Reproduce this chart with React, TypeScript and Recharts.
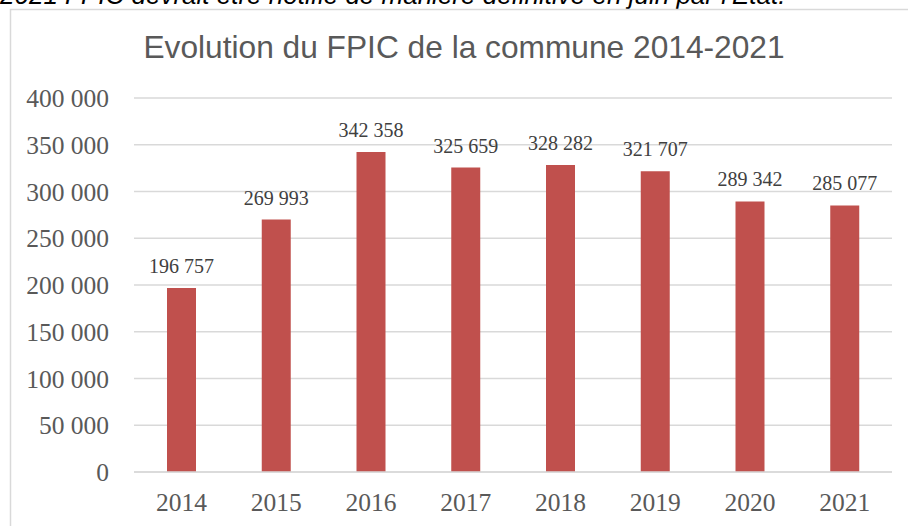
import React from 'react';
import { Bar, BarChart, CartesianGrid, LabelList, XAxis, YAxis } from 'recharts';

const years = ['2014', '2015', '2016', '2017', '2018', '2019', '2020', '2021'];
const fpic = [196757, 269993, 342358, 325659, 328282, 321707, 289342, 285077];
const yTicks = [0, 50000, 100000, 150000, 200000, 250000, 300000, 350000, 400000];

const title = 'Evolution du FPIC de la commune 2014-2021';
const note = '2021 FPIC devrait être notifié de manière définitive en juin par l\'Etat.';

// thousands separated by a space, like the French Excel format
const formatNumber = (value: number) =>
  String(value).replace(/\B(?=(\d{3})+(?!\d))/g, ' ');

const data = years.map((year, i) => ({
  year,
  value: fpic[i],
}));

const serif = '"Liberation Serif", "DejaVu Serif", serif';
const sans = '"Liberation Sans", Arial, sans-serif';

const renderValue = (props: any) => {
  const { x, y, width, value } = props;
  return (
    <text
      x={Number(x) + Number(width) / 2}
      y={Number(y) - 15}
      textAnchor='middle'
      fill='#404040'
      fontSize={20}
      fontFamily={serif}
    >
      {formatNumber(Number(value))}
    </text>
  );
};

const App: React.FC = () => {
  return (
    <div style={{ position: 'absolute', left: 0, top: 0, width: 908, height: 526, overflow: 'hidden', background: '#fff' }}>
      <BarChart
        width={908}
        height={526}
        data={data}
        margin={{ top: 98, right: 16, bottom: 0, left: 0 }}
      >
        <CartesianGrid vertical={false} stroke='#d9d9d9' strokeWidth={1.5} />
        <XAxis
          dataKey='year'
          height={54}
          tickLine={false}
          tickSize={0}
          tickMargin={21}
          axisLine={{ stroke: '#d9d9d9', strokeWidth: 1.5 }}
          tick={{ fill: '#595959', fontSize: 25.5, fontFamily: serif }}
        />
        <YAxis
          width={134}
          domain={[0, 400000]}
          ticks={yTicks}
          interval={0}
          axisLine={false}
          tickLine={false}
          tickSize={0}
          tickMargin={25}
          tickFormatter={formatNumber}
          tick={{ fill: '#595959', fontSize: 25.5, fontFamily: serif }}
        />
        <Bar dataKey='value' fill='#c0504d' barSize={29} isAnimationActive={false}>
          <LabelList dataKey='value' content={renderValue} />
        </Bar>
      </BarChart>
      <svg
        width={908}
        height={526}
        style={{ position: 'absolute', left: 0, top: 0, pointerEvents: 'none' }}
      >
        <text x={0} y={4} fontSize={26} fontStyle='italic' fontFamily={sans} fill='#000'>
          {note}
        </text>
        <path d='M10.5 526 L10.5 9.5 L908 9.5' fill='none' stroke='#d9d9d9' strokeWidth={1.5} />
        <text x={464} y={58} textAnchor='middle' fontSize={31.7} fontFamily={sans} fill='#595959'>
          {title}
        </text>
      </svg>
    </div>
  );
};

export default App;
